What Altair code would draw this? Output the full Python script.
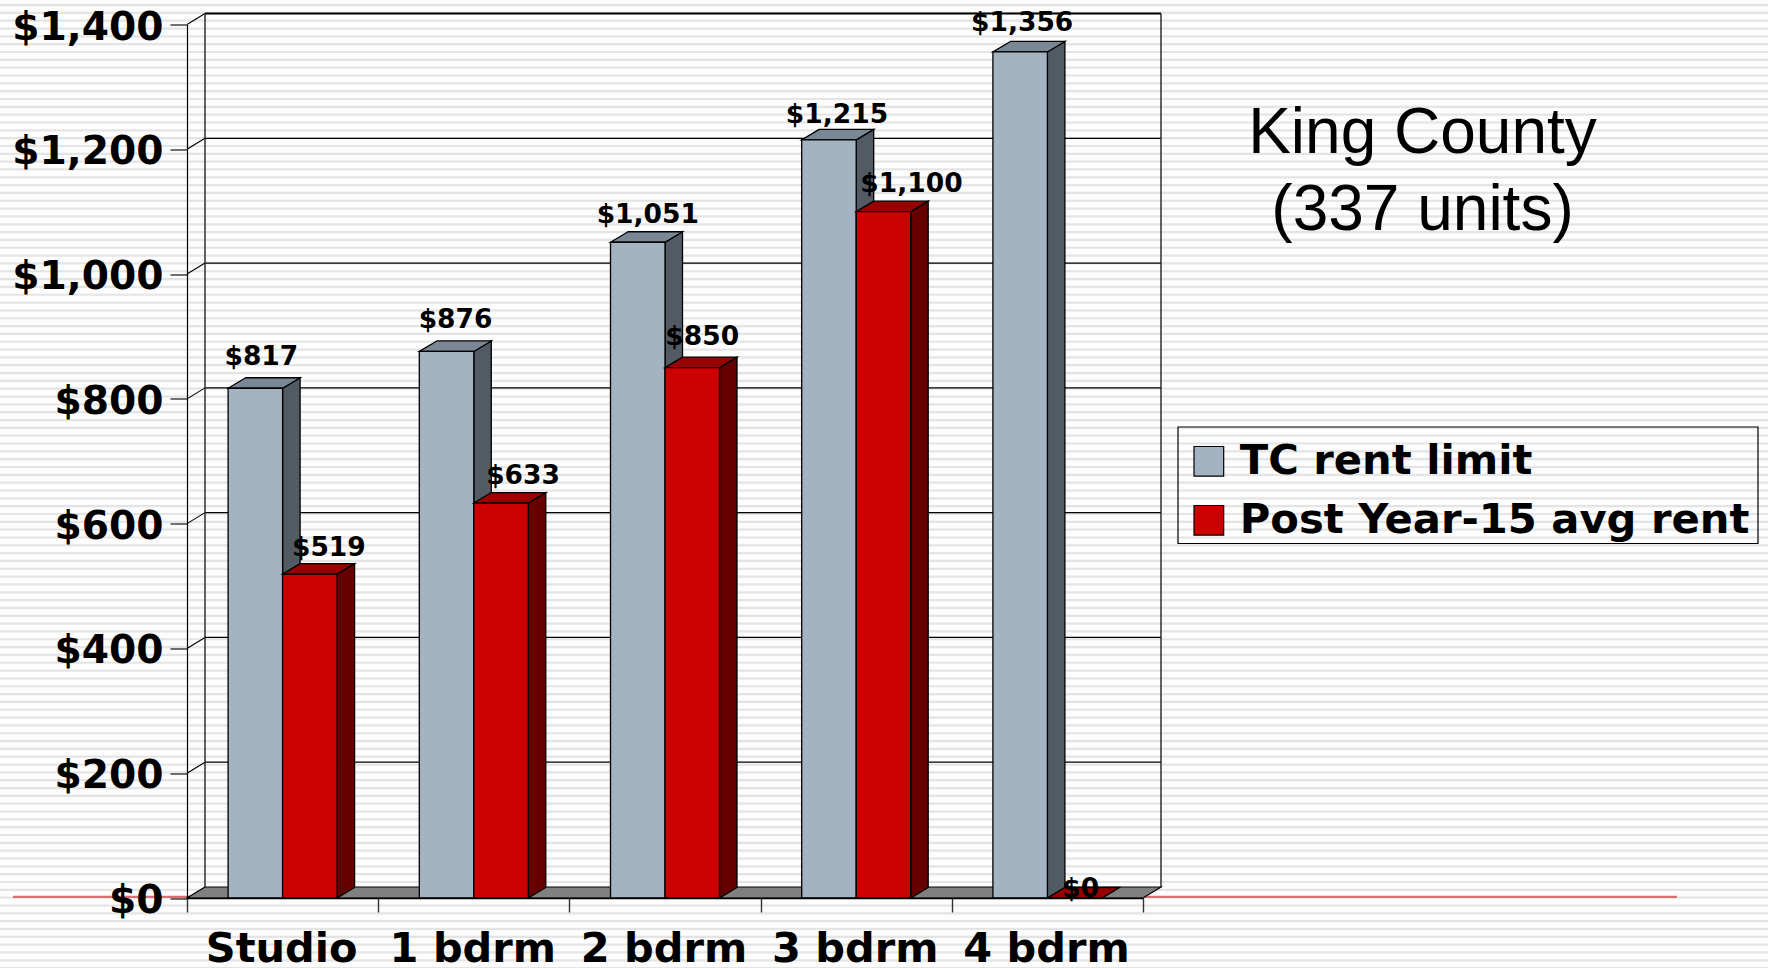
import json

import altair as alt
import pandas as pd

# Rents by unit size
categories = ["Studio", "1 bdrm", "2 bdrm", "3 bdrm", "4 bdrm"]
tc_rent_limit = [817, 876, 1051, 1215, 1356]
post_year15_rent = [519, 633, 850, 1100, 0]
series_names = ["TC rent limit", "Post Year-15 avg rent"]
y_ticks = [0, 200, 400, 600, 800, 1000, 1200, 1400]
title_lines = ["King County", "(337 units)"]

# Label nudges from the centre of each bar's front face, in screen pixels
tc_label_dx = [6, 9, 10, 8, 2]
tc_label_dy = [31, 31, 27, 25, 29]
post_label_dx = [19, 22, 10, 28, 6]
post_label_dy = [26, 27, 31, 28, 9]

# Plot geometry and the pseudo-3D depth offset
PLOT_W, PLOT_H = 956, 873.5
LEFT, TOP = 187, 24.5
CANVAS_W, CANVAS_H = 1768, 968
PX_X = PLOT_W / len(categories)
PX_Y = PLOT_H / 1400
WALL_DX, WALL_DY = 18 / PX_X, 11 / PX_Y
BAR_DX, BAR_DY = 17.5 / PX_X, 10.5 / PX_Y
BAR_EDGES = (0.215, 0.5, 0.785)

BOLD = "DejaVu Sans"


def x_at(px):
    """Category position that lands on a given canvas column."""
    return (px - LEFT) / PX_X


def y_at(px):
    """Value on the rent scale that lands on a given canvas row."""
    return (PLOT_H + TOP - px) / PX_Y


x_scale = alt.Scale(domain=[0, len(categories)], nice=False, zero=False)
y_scale = alt.Scale(domain=[0, 1400], nice=False, zero=False)
X = alt.X("x:Q", scale=x_scale, title=None)
Y = alt.Y("y:Q", scale=y_scale, title=None)

# Ruled slide background behind everything
stripes = pd.DataFrame({"y": [y_at(882 + k * 7.83) for k in range(-113, 12)]})
stripe_layer = (
    alt.Chart(stripes)
    .mark_rule(color="#e4e4e4", strokeWidth=2.2)
    .encode(x=alt.value(-LEFT), x2=alt.value(CANVAS_W - LEFT), y=Y)
)

baseline_layer = (
    alt.Chart(pd.DataFrame({"x": [x_at(13)], "x2": [x_at(1677)], "y": [y_at(896.8)]}))
    .mark_rule(color="#d87070", strokeWidth=2.2)
    .encode(x=X, x2="x2:Q", y=Y)
)

# Back wall, side wall and floor
back_grid = pd.DataFrame(
    {"x": WALL_DX, "x2": len(categories) + WALL_DX, "y": [v + WALL_DY for v in y_ticks[1:]]}
)
back_grid_layer = (
    alt.Chart(back_grid[back_grid.y < 1400])
    .mark_rule(color="#000000", strokeWidth=1.2)
    .encode(x=X, x2="x2:Q", y=Y)
)
top_edge_layer = (
    alt.Chart(back_grid[back_grid.y > 1400])
    .mark_rule(color="#000000", strokeWidth=2)
    .encode(x=X, x2="x2:Q", y=Y)
)
slants = pd.DataFrame(
    {"x": 0, "x2": WALL_DX, "y": y_ticks[1:], "y2": [v + WALL_DY for v in y_ticks[1:]]}
)
slant_layer = (
    alt.Chart(slants)
    .mark_rule(color="#000000", strokeWidth=1.1)
    .encode(x=X, x2="x2:Q", y=Y, y2="y2:Q")
)
wall_edges = pd.DataFrame(
    {
        "x": [WALL_DX, len(categories) + WALL_DX],
        "y": [WALL_DY, WALL_DY],
        "y2": [1400 + WALL_DY, 1400 + WALL_DY],
    }
)
wall_edge_layer = (
    alt.Chart(wall_edges)
    .mark_rule(color="#222222", strokeWidth=1.4)
    .encode(x=X, y=Y, y2="y2:Q")
)
floor = pd.DataFrame(
    {
        "y": [0, WALL_DY],
        "x": [0, WALL_DX],
        "x2": [len(categories), len(categories) + WALL_DX],
    }
)
floor_layer = (
    alt.Chart(floor)
    .mark_area(orient="horizontal", color="#808080", stroke="#000000", strokeWidth=1.2)
    .encode(y=Y, x=X, x2="x2:Q")
)


def bar_frames(values, left_edge, right_edge):
    """Front, side and top faces of one series' bars, in data units."""
    front, side, top = [], [], []
    for i, v in enumerate(values):
        a, b = i + left_edge, i + right_edge
        front.append({"x": a, "x2": b, "y": v, "y2": 0})
        side.extend(
            [
                {"bar": i, "x": b, "y": v, "y2": 0},
                {"bar": i, "x": b + BAR_DX, "y": v + BAR_DY, "y2": BAR_DY},
            ]
        )
        top.extend(
            [
                {"bar": i, "y": v, "x": a, "x2": b},
                {"bar": i, "y": v + BAR_DY, "x": a + BAR_DX, "x2": b + BAR_DX},
            ]
        )
    return pd.DataFrame(front), pd.DataFrame(side), pd.DataFrame(top)


fill_scale = alt.Scale(domain=series_names, range=["#A3B3C2", "#CC0000"])
legend = alt.Legend(
    title=None,
    orient="none",
    legendX=1178 - LEFT,
    legendY=432.5 - TOP,
    symbolType="square",
    symbolSize=880,
    symbolStrokeColor="#000000",
    symbolStrokeWidth=1.2,
    symbolOpacity=1,
    symbolOffset=2,
    labelFont=BOLD,
    labelFontWeight="bold",
    labelFontSize=41.7,
    labelColor="#000000",
    labelLimit=700,
    labelOffset=10,
    rowPadding=16,
    padding=8,
)

# Frame drawn round the legend, with more room above the entries than below
legend_box_layer = (
    alt.Chart(pd.DataFrame({"x": [x_at(1178)], "x2": [x_at(1758)], "y": [y_at(427)], "y2": [y_at(543.5)]}))
    .mark_rect(stroke="#000000", strokeWidth=1.2, fillOpacity=0)
    .encode(x=X, x2="x2:Q", y=Y, y2="y2:Q")
)


def bar_layers(values, left_edge, right_edge, name, side_color, top_color):
    front, side, top = bar_frames(values, left_edge, right_edge)
    front["series"] = name
    side_layer = (
        alt.Chart(side)
        .mark_area(orient="vertical", color=side_color, stroke="#000000", strokeWidth=1.3)
        .encode(x=X, y=Y, y2="y2:Q", detail="bar:N")
    )
    top_layer = (
        alt.Chart(top)
        .mark_area(orient="horizontal", color=top_color, stroke="#000000", strokeWidth=1.3)
        .encode(y=Y, x=X, x2="x2:Q", detail="bar:N")
    )
    front_layer = (
        alt.Chart(front)
        .mark_rect(stroke="#000000", strokeWidth=1.3, opacity=1)
        .encode(
            x=X,
            x2="x2:Q",
            y=Y,
            y2="y2:Q",
            fill=alt.Fill("series:N", scale=fill_scale, legend=legend),
        )
    )
    return [side_layer, top_layer, front_layer]


tc_layers = bar_layers(tc_rent_limit, BAR_EDGES[0], BAR_EDGES[1], series_names[0], "#525A63", "#7A8794")
post_layers = bar_layers(post_year15_rent, BAR_EDGES[1], BAR_EDGES[2], series_names[1], "#660000", "#990000")

# Value labels above the bars
label_rows = []
for i, v in enumerate(tc_rent_limit):
    label_rows.append(
        {
            "x": i + sum(BAR_EDGES[:2]) / 2 + tc_label_dx[i] / PX_X,
            "y": v + tc_label_dy[i] / PX_Y,
            "text": f"${v:,}",
        }
    )
for i, v in enumerate(post_year15_rent):
    label_rows.append(
        {
            "x": i + sum(BAR_EDGES[1:]) / 2 + post_label_dx[i] / PX_X,
            "y": v + post_label_dy[i] / PX_Y,
            "text": f"${v:,}",
        }
    )
label_layer = (
    alt.Chart(pd.DataFrame(label_rows))
    .mark_text(font=BOLD, fontWeight="bold", fontSize=26.5, color="#000000", baseline="middle")
    .encode(x=X, y=Y, text="text:N")
)

# Two-line panel title to the right of the plot
title_layer = (
    alt.Chart(pd.DataFrame({"text": title_lines, "y": [y_at(153), y_at(230)]}))
    .mark_text(font="Liberation Sans", fontSize=64, color="#000000", align="center", baseline="alphabetic")
    .encode(x=alt.value(1422.5 - LEFT), y=Y, text="text:N")
)

# Axes: ticks on whole x positions, category names halfway between them
tick_positions = [p / 2 for p in range(2 * len(categories) + 1)]
axis_layer = (
    alt.Chart(pd.DataFrame({"x": [0], "y": [0]}))
    .mark_point(opacity=0)
    .encode(
        x=alt.X(
            "x:Q",
            scale=x_scale,
            title=None,
            axis=alt.Axis(
                values=tick_positions,
                grid=False,
                domain=True,
                domainColor="#000000",
                domainWidth=1.5,
                tickColor="#333333",
                tickWidth=1.4,
                tickSize=14,
                tickOpacity={"condition": {"test": "datum.value % 1 == 0", "value": 1}, "value": 0},
                labelExpr=f"datum.value % 1 ? {json.dumps(categories)}[floor(datum.value)] : ''",
                labelFont=BOLD,
                labelFontWeight="bold",
                labelFontSize=41.5,
                labelColor="#000000",
                labelPadding=16,
                labelOffset=-1.5,
                labelOverlap=False,
                labelAngle=0,
                zindex=1,
            ),
        ),
        y=alt.Y(
            "y:Q",
            scale=y_scale,
            title=None,
            axis=alt.Axis(
                values=y_ticks,
                format="$,.0f",
                grid=False,
                domain=True,
                domainColor="#000000",
                domainWidth=1.2,
                tickColor="#333333",
                tickWidth=1.4,
                tickSize=17,
                labelFont=BOLD,
                labelFontWeight="bold",
                labelFontSize=39.2,
                labelColor="#000000",
                labelPadding=7,
                labelOverlap=False,
                labelBaseline="middle",
                labelOffset=2.5,
                zindex=1,
            ),
        ),
    )
)

chart = (
    alt.layer(
        stripe_layer,
        baseline_layer,
        axis_layer,
        back_grid_layer,
        top_edge_layer,
        slant_layer,
        wall_edge_layer,
        floor_layer,
        legend_box_layer,
        *tc_layers,
        *post_layers,
        label_layer,
        title_layer,
    )
    .properties(
        width=PLOT_W,
        height=PLOT_H,
        padding={
            "left": LEFT,
            "top": TOP,
            "right": CANVAS_W - LEFT - PLOT_W,
            "bottom": CANVAS_H - TOP - PLOT_H,
        },
        autosize=alt.AutoSizeParams(type="none"),
        background="#FDFDFD",
    )
    .configure_view(stroke=None)
)

chart.save("out.html", embed_options={"renderer": "svg", "actions": False})
